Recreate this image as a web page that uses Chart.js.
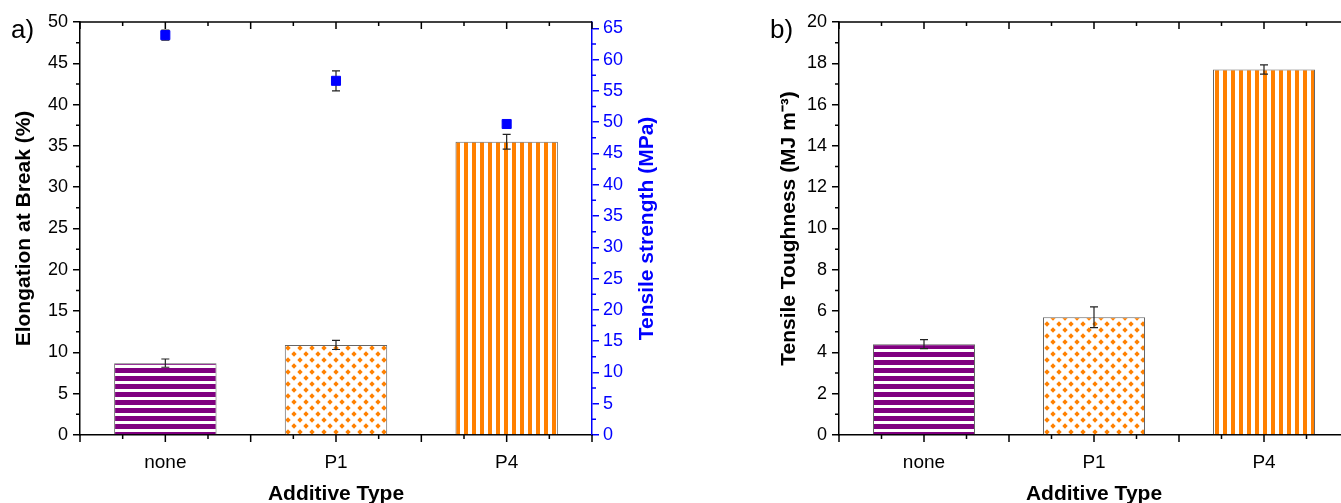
<!DOCTYPE html>
<html>
<head>
<meta charset="utf-8">
<script src="https://cdn.jsdelivr.net/npm/chart.js@4.4.1/dist/chart.umd.min.js"></script>
<style>
  html, body { margin: 0; padding: 0; background: #fff; overflow: hidden; }
  body { width: 1341px; height: 503px; position: relative; }
  #chart-a { position: absolute; left: 0; top: 0; }
  #chart-b { position: absolute; left: 759px; top: 0; }
</style>
</head>
<body>
<canvas id="chart-a" width="680" height="503"></canvas>
<canvas id="chart-b" width="600" height="503"></canvas>
<script>
const categories = ["none", "P1", "P4"];
const elongation = [8.7, 10.9, 35.5];
const elongationErr = [0.5, 0.55, 0.9];
const strength = [63.9, 56.6, 49.7];
const strengthErr = [0.8, 1.6, 0.4];
const toughness = [4.4, 5.7, 17.7];
const toughnessErr = [0.22, 0.5, 0.22];

const purple = "#800080";
const orange = "#ff8000";
const blue = "#0000ff";
const fontFamily = "'Liberation Sans', Arial, sans-serif";

function makePattern(w, h, draw) {
  const tile = document.createElement("canvas");
  tile.width = w;
  tile.height = h;
  const c = tile.getContext("2d");
  c.fillStyle = "#ffffff";
  c.fillRect(0, 0, w, h);
  draw(c);
  return c.createPattern(tile, "repeat");
}

function diamond(c, x, y, r) {
  c.beginPath();
  c.moveTo(x, y - r);
  c.lineTo(x + r, y);
  c.lineTo(x, y + r);
  c.lineTo(x - r, y);
  c.closePath();
  c.fill();
}

const hStripes = makePattern(4, 8, function (c) {
  c.fillStyle = purple;
  c.fillRect(0, 0, 4, 5);
});

const vStripes = makePattern(8, 4, function (c) {
  c.fillStyle = orange;
  c.fillRect(0, 0, 4, 4);
});

const dots = makePattern(12, 12, function (c) {
  c.fillStyle = orange;
  diamond(c, 6, 6, 2.7);
  [[0, 0], [12, 0], [0, 12], [12, 12]].forEach(function (p) {
    diamond(c, p[0], p[1], 2.7);
  });
});

const barFills = [hStripes, dots, vStripes];

// error bars drawn right after the bars, so the scatter squares end up on top
const errorBarPlugin = {
  id: "errorBars",
  afterDatasetDraw: function (chart, args, opts) {
    if (args.meta.type !== "bar") return;
    const ctx = chart.ctx;
    ctx.save();
    ctx.strokeStyle = "#222222";
    ctx.lineWidth = 1.2;
    opts.sets.forEach(function (set) {
      const meta = chart.getDatasetMeta(set.dataset);
      const scale = chart.scales[meta.yAxisID];
      const values = chart.data.datasets[set.dataset].data;
      meta.data.forEach(function (el, i) {
        const x = el.x;
        const top = scale.getPixelForValue(values[i] + set.errors[i]);
        const bottom = scale.getPixelForValue(values[i] - set.errors[i]);
        ctx.beginPath();
        ctx.moveTo(x, top);
        ctx.lineTo(x, bottom);
        ctx.moveTo(x - 4, top);
        ctx.lineTo(x + 4, top);
        ctx.moveTo(x - 4, bottom);
        ctx.lineTo(x + 4, bottom);
        ctx.stroke();
      });
    });
    ctx.restore();
  },
};

// frame, minor ticks, category ticks, right-hand title and the panel letter
const framePlugin = {
  id: "frame",
  afterDraw: function (chart, args, opts) {
    const ctx = chart.ctx;
    const area = chart.chartArea;
    ctx.save();
    ctx.lineWidth = 1.5;
    ctx.strokeStyle = "#000000";

    ctx.beginPath();
    ctx.moveTo(area.left, area.top);
    ctx.lineTo(area.right, area.top);
    if (opts.rightBorder) {
      ctx.moveTo(area.right, area.top);
      ctx.lineTo(area.right, area.bottom);
    }
    ctx.stroke();

    const step = (area.right - area.left) / 12;
    ctx.beginPath();
    for (let k = 0; k <= 12; k++) {
      const x = area.left + k * step;
      const len = k % 2 === 0 ? 7 : 4;
      ctx.moveTo(x, area.bottom);
      ctx.lineTo(x, area.bottom + len);
      ctx.moveTo(x, area.top);
      ctx.lineTo(x, area.top + len);
    }
    ctx.stroke();

    opts.minor.forEach(function (m) {
      const scale = chart.scales[m.axis];
      ctx.strokeStyle = m.color;
      ctx.beginPath();
      for (let v = m.step / 2; v < scale.max; v += m.step) {
        const y = scale.getPixelForValue(v);
        if (m.axis === "y") {
          ctx.moveTo(area.left, y);
          ctx.lineTo(area.left - 4, y);
        } else {
          ctx.moveTo(area.right, y);
          ctx.lineTo(area.right + 4, y);
        }
      }
      ctx.stroke();
    });

    if (opts.rightTitle) {
      ctx.save();
      ctx.translate(opts.rightTitle.x, (area.top + area.bottom) / 2);
      ctx.rotate(-Math.PI / 2);
      ctx.fillStyle = opts.rightTitle.color;
      ctx.font = "bold 21px " + fontFamily;
      ctx.textAlign = "center";
      ctx.textBaseline = "middle";
      ctx.fillText(opts.rightTitle.text, 0, 0);
      ctx.restore();
    }

    ctx.fillStyle = "#000000";
    ctx.font = "26px " + fontFamily;
    ctx.textBaseline = "middle";
    ctx.textAlign = "left";
    ctx.fillText(opts.letter, 11, 31);
    ctx.restore();
  },
};

function xAxis() {
  return {
    offset: true,
    grid: { display: false },
    border: { display: true, color: "#000000", width: 1.5 },
    ticks: { color: "#000000", padding: 8, font: { family: fontFamily, size: 19 } },
    title: {
      display: true,
      text: "Additive Type",
      color: "#000000",
      padding: { top: 0, bottom: 0 },
      font: { family: fontFamily, size: 21, weight: "bold", lineHeight: 0.8 },
    },
    afterFit: function (scale) {
      scale.height = 68;
    },
  };
}

function yAxis(max, stepSize, title, titlePad, color, width) {
  return {
    min: 0,
    max: max,
    grid: { display: true, drawOnChartArea: false, drawTicks: true, tickLength: 7, color: color, lineWidth: 1.5 },
    border: { display: true, color: color, width: 1.5 },
    ticks: {
      stepSize: stepSize,
      includeBounds: false,
      color: color,
      padding: 5,
      font: { family: fontFamily, size: 18 },
    },
    title: {
      display: title !== "",
      text: title,
      color: color,
      padding: { top: titlePad, bottom: 0 },
      font: { family: fontFamily, size: 21, weight: "bold" },
    },
    afterFit: function (scale) {
      scale.width = width;
    },
  };
}

const leftY = yAxis(50, 5, "Elongation at Break (%)", 12, "#000000", 80);
leftY.position = "left";
const rightY = yAxis(66, 5, "", 0, blue, 88);
rightY.position = "right";
rightY.ticks.padding = 4;

new Chart(document.getElementById("chart-a"), {
  data: {
    labels: categories,
    datasets: [
      {
        type: "bar",
        label: "Elongation at Break",
        data: elongation,
        yAxisID: "y",
        order: 2,
        backgroundColor: barFills,
        borderColor: "#666666",
        borderWidth: 1,
        barPercentage: 0.6,
        categoryPercentage: 1,
      },
      {
        type: "line",
        label: "Tensile strength",
        data: strength,
        yAxisID: "y1",
        order: 1,
        showLine: false,
        pointStyle: "rect",
        pointRadius: 6.4,
        pointBackgroundColor: blue,
        pointBorderColor: blue,
        pointBorderWidth: 1,
      },
    ],
  },
  options: {
    responsive: false,
    animation: false,
    layout: { padding: { top: 22, right: 0, bottom: 0, left: 0 } },
    plugins: {
      legend: { display: false },
      tooltip: { enabled: false },
      errorBars: {
        sets: [
          { dataset: 0, errors: elongationErr },
          { dataset: 1, errors: strengthErr },
        ],
      },
      frame: {
        letter: "a)",
        rightBorder: false,
        rightTitle: { text: "Tensile strength (MPa)", x: 647, color: blue },
        minor: [
          { axis: "y", step: 5, color: "#000000" },
          { axis: "y1", step: 5, color: blue },
        ],
      },
    },
    scales: {
      x: xAxis(),
      y: leftY,
      y1: rightY,
    },
  },
  plugins: [errorBarPlugin, framePlugin],
});

const toughY = yAxis(20, 2, "Tensile Toughness (MJ m\u207B\u00B3)", 18, "#000000", 80);
toughY.position = "left";

new Chart(document.getElementById("chart-b"), {
  type: "bar",
  data: {
    labels: categories,
    datasets: [
      {
        label: "Tensile Toughness",
        data: toughness,
        yAxisID: "y",
        backgroundColor: barFills,
        borderColor: "#666666",
        borderWidth: 1,
        barPercentage: 0.6,
        categoryPercentage: 1,
      },
    ],
  },
  options: {
    responsive: false,
    animation: false,
    layout: { padding: { top: 22, right: 10, bottom: 0, left: 0 } },
    plugins: {
      legend: { display: false },
      tooltip: { enabled: false },
      errorBars: {
        sets: [{ dataset: 0, errors: toughnessErr }],
      },
      frame: {
        letter: "b)",
        rightBorder: true,
        minor: [{ axis: "y", step: 2, color: "#000000" }],
      },
    },
    scales: {
      x: xAxis(),
      y: toughY,
    },
  },
  plugins: [errorBarPlugin, framePlugin],
});
</script>
</body>
</html>
